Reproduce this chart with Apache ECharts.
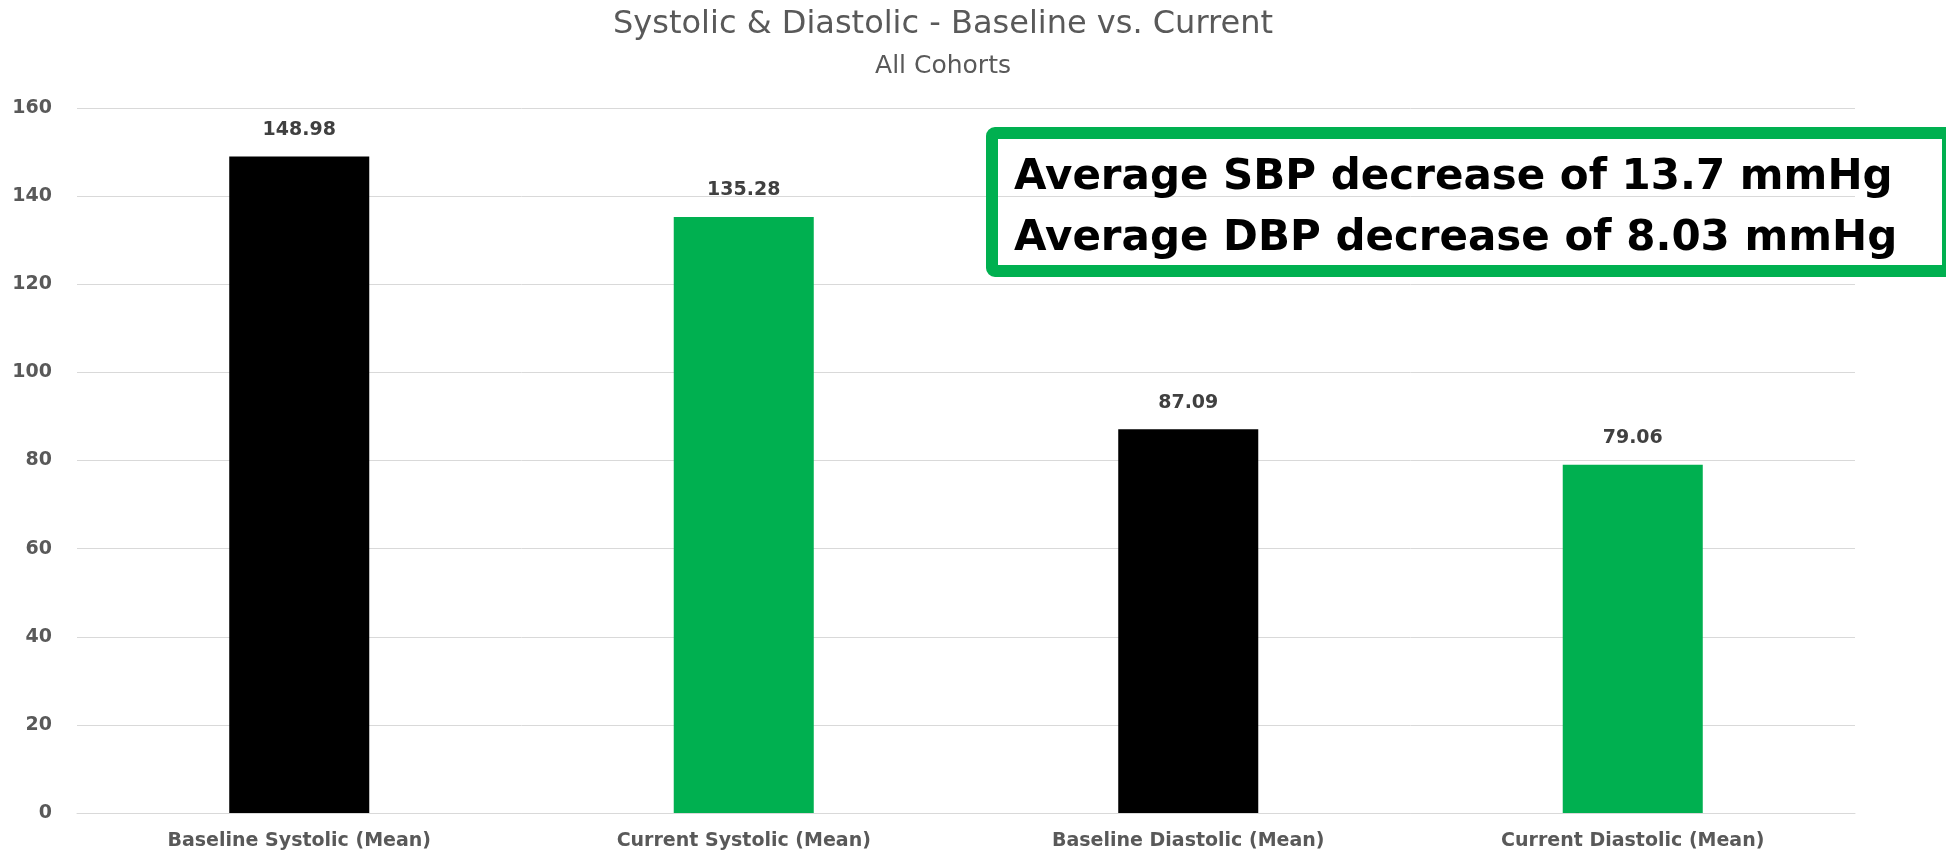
<!DOCTYPE html>
<html>
<head>
<meta charset="utf-8">
<script src="https://cdn.jsdelivr.net/npm/echarts@6/dist/echarts.min.js"></script>
<style>
html,body{margin:0;padding:0;background:#fff;}
#chart{width:1946px;height:852px;}
</style>
</head>
<body>
<div id="chart"></div>
<script>
const categories = ['Baseline Systolic (Mean)', 'Current Systolic (Mean)', 'Baseline Diastolic (Mean)', 'Current Diastolic (Mean)'];
const values = [148.98, 135.28, 87.09, 79.06];
const barColors = ['#000000', '#00B050', '#000000', '#00B050'];
const yTicks = { min: 0, max: 160, interval: 20 };
const titleText = 'Systolic & Diastolic - Baseline vs. Current';
const subtitleText = 'All Cohorts';
const noteLines = ['Average SBP decrease of 13.7 mmHg', 'Average DBP decrease of 8.03 mmHg'];

const FONT = '"DejaVu Sans", sans-serif';
const chart = echarts.init(document.getElementById('chart'), null, { renderer: 'canvas' });

chart.setOption({
  backgroundColor: '#ffffff',
  animation: false,
  title: [
    { text: titleText, left: 938, top: 4, textAlign: 'center',
      textStyle: { fontFamily: FONT, fontSize: 32, fontWeight: 'normal', color: '#595959' } },
    { text: subtitleText, left: 938, top: 49, textAlign: 'center',
      textStyle: { fontFamily: FONT, fontSize: 25, fontWeight: 'normal', color: '#595959' } }
  ],
  grid: { left: 77, right: 91, top: 108, bottom: 39, containLabel: false },
  xAxis: {
    type: 'category',
    data: categories,
    axisLine: { show: true, lineStyle: { color: '#d9d9d9', width: 1 } },
    axisTick: { show: false },
    axisLabel: { fontFamily: FONT, fontSize: 19, fontWeight: 'bold', color: '#595959', margin: 19 }
  },
  yAxis: {
    type: 'value',
    min: yTicks.min, max: yTicks.max, interval: yTicks.interval,
    axisLine: { show: false },
    axisTick: { show: false },
    splitLine: { lineStyle: { color: '#d9d9d9', width: 1 } },
    axisLabel: { fontFamily: FONT, fontSize: 19, fontWeight: 'bold', color: '#595959', margin: 25 }
  },
  series: [{
    type: 'bar',
    barWidth: '31.5%',
    data: values.map((v, i) => ({ value: v, itemStyle: { color: barColors[i] } })),
    label: {
      show: true, position: 'top', distance: 17,
      fontFamily: FONT, fontSize: 19, fontWeight: 'bold', color: '#404040',
      formatter: p => p.value.toFixed(2)
    }
  }],
  graphic: [
    { type: 'rect', z: 10,
      shape: { x: 992, y: 133, width: 956, height: 138, r: 3 },
      style: { fill: 'transparent', stroke: '#00B050', lineWidth: 12 } },
    { type: 'text', z: 11, x: 1014, y: 178,
      style: { text: noteLines[0], font: 'bold 42px "DejaVu Sans", sans-serif', fill: '#000000', align: 'left', verticalAlign: 'middle' } },
    { type: 'text', z: 11, x: 1014, y: 239,
      style: { text: noteLines[1], font: 'bold 42px "DejaVu Sans", sans-serif', fill: '#000000', align: 'left', verticalAlign: 'middle' } }
  ]
});
</script>
</body>
</html>
